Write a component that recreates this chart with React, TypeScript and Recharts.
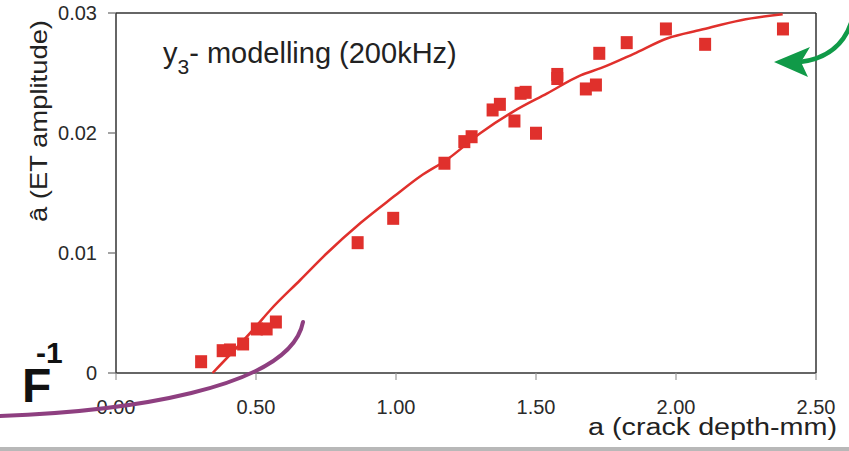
import React from "react";
import { ScatterChart, Scatter, XAxis, YAxis, ReferenceLine } from "recharts";

// measured points: crack depth (mm) vs ET amplitude
const depthMm = [
  0.304, 0.381, 0.407, 0.454, 0.503, 0.538, 0.571, 0.863, 0.99, 1.173, 1.244, 1.27, 1.345, 1.371,
  1.423, 1.445, 1.463, 1.5, 1.576, 1.576, 1.678, 1.714, 1.726, 1.824, 1.964, 2.104, 2.382,
];
const amplitude = [
  0.00094, 0.00186, 0.00192, 0.00242, 0.00367, 0.00367, 0.00425, 0.01086, 0.01289, 0.01748, 0.01928,
  0.01969, 0.02192, 0.02239, 0.021, 0.02331, 0.02339, 0.01998, 0.02488, 0.02454, 0.02367, 0.024,
  0.02664, 0.02753, 0.02867, 0.02739, 0.02867,
];

// y3 model curve
const modelDepth = [
  0.345, 0.501, 0.551, 0.658, 0.754, 0.873, 0.992, 1.087, 1.183, 1.302, 1.42, 1.54, 1.659, 1.731,
  1.849, 1.97, 2.089, 2.232, 2.381,
];
const modelAmp = [
  0.0, 0.0039, 0.00525, 0.00775, 0.01, 0.0125, 0.0147, 0.0164, 0.0178, 0.02, 0.0218, 0.0233, 0.0248,
  0.0254, 0.0266, 0.0279, 0.0286, 0.0294, 0.0299,
];

const xTicks = [0, 0.5, 1, 1.5, 2, 2.5];
const yTicks = [0, 0.01, 0.02, 0.03];

const points = depthMm.map((x, i) => ({ x, y: amplitude[i] }));
const model = modelDepth.map((x, i) => ({ x, y: modelAmp[i] }));

const RED = "#e0302c";
const FONT = "'Liberation Sans', Arial, sans-serif";

const Square = (props: any) => {
  const { cx, cy } = props;
  if (cx == null || cy == null) return <g />;
  return <rect x={cx - 6} y={cy - 6.5} width={12} height={13} fill={RED} />;
};

export default function App() {
  return (
    <div style={{ position: "absolute", left: 0, top: 0, width: 849, height: 451, background: "#fff", fontFamily: FONT }}>
      <ScatterChart width={849} height={451} margin={{ top: 13, right: 33, bottom: 0, left: 0 }}>
        <XAxis
          type="number"
          dataKey="x"
          domain={[0, 2.5]}
          ticks={xTicks}
          tickFormatter={(v: number) => v.toFixed(2)}
          height={78}
          tickSize={7}
          tickMargin={20}
          axisLine={{ stroke: "#333", strokeWidth: 1.5 }}
          tickLine={{ stroke: "#999", strokeWidth: 1.2 }}
          tick={{ fill: "#2a2a2a", fontSize: 20, fontFamily: FONT }}
        />
        <YAxis
          type="number"
          dataKey="y"
          domain={[0, 0.03]}
          ticks={yTicks}
          tickFormatter={(v: number) => (v === 0 ? "0" : v.toFixed(2))}
          width={116}
          tickSize={8}
          tickMargin={11}
          axisLine={{ stroke: "#333", strokeWidth: 1.5 }}
          tickLine={{ stroke: "#666", strokeWidth: 1.2 }}
          tick={{ fill: "#2a2a2a", fontSize: 20, fontFamily: FONT }}
        />
        <ReferenceLine y={0.03} stroke="#333" strokeWidth={1.5} />
        <ReferenceLine x={2.5} stroke="#333" strokeWidth={1.5} />
        <Scatter
          data={model}
          line={{ stroke: RED, strokeWidth: 2.5 }}
          lineJointType="monotoneX"
          shape={() => <g />}
          fill="none"
          isAnimationActive={false}
        />
        <Scatter data={points} shape={Square} fill={RED} isAnimationActive={false} />
      </ScatterChart>

      <svg
        width={849}
        height={451}
        style={{ position: "absolute", left: 0, top: 0, pointerEvents: "none" }}
        fontFamily={FONT}
      >
        <text x={163} y={63} fontSize={29} fill="#222">
          y<tspan fontSize={21} dy={11}>3</tspan>
          <tspan fontSize={29} dy={-11}>- modelling (200kHz)</tspan>
        </text>

        <text transform="translate(47,121) rotate(-90)" textAnchor="middle" fontSize={24} fill="#222" textLength={202} lengthAdjust="spacingAndGlyphs">
          â (ET amplitude)
        </text>

        <text x={588} y={435} fontSize={23} fill="#222" textLength={249} lengthAdjust="spacingAndGlyphs">
          a (crack depth-mm)
        </text>

        <text x={22} y={402} fontSize={48} fontWeight="bold" fill="#111">F</text>
        <text x={36} y={363} fontSize={30} fontWeight="bold" fill="#111">-1</text>

        <path d="M -2 416 C 120 412, 290 390, 303 322" fill="none" stroke="#8e3f80" strokeWidth={4} strokeLinecap="round" />

        <path d="M 852 20 C 846 40, 832 58, 800 62" fill="none" stroke="#109a48" strokeWidth={4.5} />
        <path d="M 774 62 L 810 47 L 801 62 L 808 77 Z" fill="#109a48" />
      </svg>

      <div style={{ position: "absolute", left: 0, top: 447, width: 849, height: 4, background: "#b8b8b8" }} />
    </div>
  );
}
